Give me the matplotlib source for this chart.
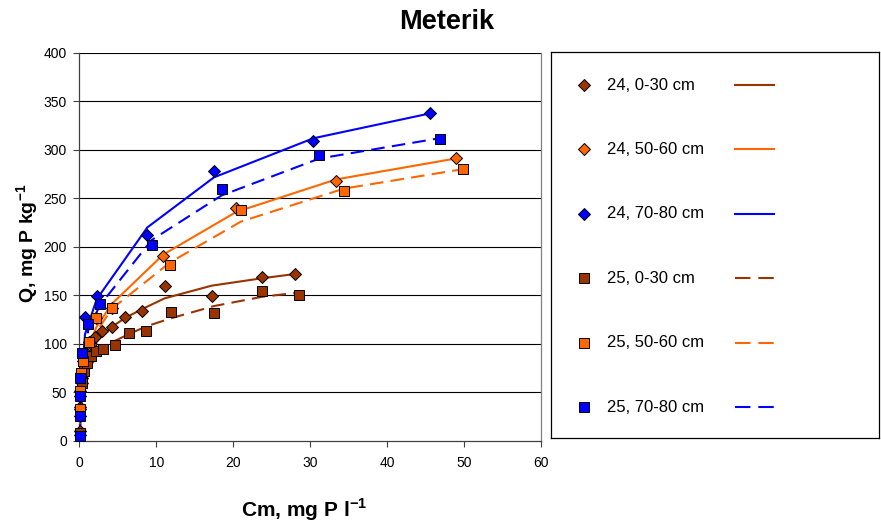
import matplotlib
matplotlib.use("Agg")
import matplotlib.pyplot as plt

plt.rcParams['font.family'] = ['Liberation Sans', 'DejaVu Sans']
plt.rcParams['mathtext.fontset'] = 'custom'
plt.rcParams['mathtext.rm'] = 'Liberation Sans'
plt.rcParams['mathtext.bf'] = 'Liberation Sans:bold'

# measured points (Cm, Q) and fitted curve values at the same Cm
x_24_030 = [0.05, 0.15, 0.3, 0.6, 1.0, 1.5, 2.0, 2.9, 4.3, 6.0, 8.2, 11.1, 17.2, 23.7, 28.0]
q_24_030 = [10, 35, 60, 78, 90, 100, 107, 113, 117, 128, 134, 160, 149, 169, 172]
fit_24_030 = [8, 25, 45, 68, 82, 93, 100, 108, 118, 127, 136, 147, 160, 167.6, 172]

x_24_5060 = [0.05, 0.1, 0.18, 0.44, 1.26, 2.2, 4.2, 10.9, 20.4, 33.4, 48.9]
q_24_5060 = [33, 52, 70, 82, 101.5, 127, 137.3, 190.6, 239.7, 268, 292]
fit_24_5060 = [15, 30, 50, 75, 98, 117, 141, 192, 236, 269.5, 291]

x_24_7080 = [0.05, 0.1, 0.15, 0.3, 0.45, 0.74, 2.26, 8.84, 17.5, 30.4, 45.6]
q_24_7080 = [6, 26, 46, 65, 90, 128, 149, 212, 278, 309, 338]
fit_24_7080 = [10, 22, 35, 60, 80, 110, 146, 220, 271.6, 311.8, 337.5]

x_25_030 = [0.05, 0.12, 0.3, 0.6, 0.96, 1.5, 2.2, 3.1, 4.6, 6.4, 8.7, 11.9, 17.5, 23.8, 28.6]
q_25_030 = [8, 30, 60, 72, 80, 88, 93, 95, 99, 111, 113.6, 133, 131.5, 155, 150]
fit_25_030 = [6, 18, 40, 58, 68, 78, 86, 95, 103, 110, 118, 126.4, 139, 148.6, 153]

x_25_5060 = [0.05, 0.1, 0.18, 0.44, 1.26, 2.2, 4.2, 11.8, 21.0, 34.4, 49.8]
q_25_5060 = [33, 52, 70, 82, 101.5, 127, 137.3, 181.3, 238, 258, 280]
fit_25_5060 = [14, 28, 45, 72, 96, 112, 136, 184, 226, 260, 280]

x_25_7080 = [0.05, 0.06, 0.08, 0.1, 0.3, 1.17, 2.7, 9.4, 18.5, 31.2, 46.9]
q_25_7080 = [5, 25.7, 46.5, 64.6, 90.5, 120.5, 140.8, 201.6, 260, 294.6, 311.4]
fit_25_7080 = [4, 5, 8, 12, 60, 115, 140, 207, 253, 291, 312]

labels = ['24, 0-30 cm', '24, 50-60 cm', '24, 70-80 cm',
          '25, 0-30 cm', '25, 50-60 cm', '25, 70-80 cm']

brown = '#993300'
orange = '#FF6600'
blue = '#0000FF'

series = [
    (x_24_030, q_24_030, fit_24_030, brown, 'D', '-'),
    (x_24_5060, q_24_5060, fit_24_5060, orange, 'D', '-'),
    (x_24_7080, q_24_7080, fit_24_7080, blue, 'D', '-'),
    (x_25_030, q_25_030, fit_25_030, brown, 's', '--'),
    (x_25_5060, q_25_5060, fit_25_5060, orange, 's', '--'),
    (x_25_7080, q_25_7080, fit_25_7080, blue, 's', '--'),
]
msize = {'D': 5.7, 's': 7.2}
dash = (6.5, 3.5)

W, H = 881, 524
fig = plt.figure(figsize=(W / 100, H / 100), dpi=100)
ax = fig.add_axes([79.3 / W, 1 - 441 / H, (541 - 79.3) / W, (441 - 52.7) / H])

# fitted lines first, markers on top
for xs, qs, fit, col, mk, ls in series:
    line, = ax.plot(xs, fit, color=col, lw=1.5, ls=ls, zorder=3)
    if ls == '--':
        line.set_dashes(dash)
for xs, qs, fit, col, mk, ls in series:
    ax.plot(xs, qs, ls='none', marker=mk, ms=msize[mk], mfc=col, mec='black',
            mew=0.7, zorder=4, clip_on=False)

ax.set_xlim(0, 60)
ax.set_ylim(0, 400)
ax.set_xticks(range(0, 61, 10))
ax.set_yticks(range(0, 401, 50))
ax.tick_params(direction='out', length=4, width=0.8, color='#404040',
               labelsize=10)
ax.tick_params(axis='x', pad=7)
ax.tick_params(axis='y', pad=5)
for y in range(50, 401, 50):
    ax.axhline(y, color='black', lw=0.8, zorder=1)
ax.spines['left'].set_color('#404040')
ax.spines['bottom'].set_color('#404040')
ax.spines['right'].set_color('#808080')
ax.spines['top'].set_visible(False)
for s in ax.spines.values():
    s.set_linewidth(0.9)

fig.text(447 / W, 1 - 22 / H, 'Meterik', ha='center', va='center',
         fontsize=19.5, fontweight='bold')
fig.text(304 / W, 1 - 510 / H, r'Cm, mg P l$^{\mathbf{-1}}$', ha='center',
         va='center', fontsize=15, fontweight='bold')
fig.text(28 / W, 1 - 243 / H, r'Q, mg P kg$^{\mathbf{-1}}$', ha='center',
         va='center', fontsize=14, fontweight='bold', rotation=90)

# legend box: marker + label, then the fitted line
lg = fig.add_axes([551 / W, 1 - 438 / H, 328 / W, 386 / H])
lg.set_xlim(0, 328)
lg.set_ylim(386, 0)
lg.set_xticks([])
lg.set_yticks([])
for s in lg.spines.values():
    s.set_linewidth(0.9)
    s.set_color('black')
for i, (lab, (xs, qs, fit, col, mk, ls)) in enumerate(zip(labels, series)):
    yy = 33 + 64.4 * i
    lg.plot([33], [yy], ls='none', marker=mk, ms=msize[mk], mfc=col,
            mec='black', mew=0.7)
    lg.text(56, yy, lab, fontsize=12, va='center', ha='left')
    l, = lg.plot([184, 223], [yy, yy], color=col, lw=1.5, ls=ls)
    if ls == '--':
        l.set_dashes((7.4, 3.8))

fig.savefig('out.png', dpi=100)
